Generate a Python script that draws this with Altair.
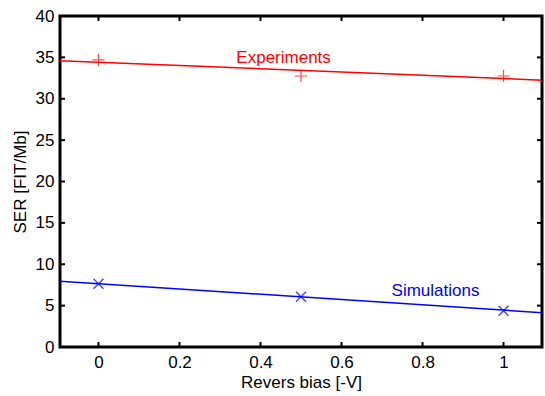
import altair as alt
import pandas as pd

# data
bias = [0.0, 0.5, 1.0]
experiments = [34.7, 32.75, 32.75]
simulations = [7.65, 6.08, 4.39]

fit_x = [-0.095, 1.095]
fit_exp = [34.6, 32.25]
fit_sim = [7.95, 4.15]

x_ticks = [0, 0.2, 0.4, 0.6, 0.8, 1.0]
y_ticks = [0, 5, 10, 15, 20, 25, 30, 35, 40]

labels = ["Experiments", "Simulations"]
label_x = [0.457, 0.832]
label_y = [34.3, 6.17]
label_col = ["#ff0000", "#0000ff"]

FONT = "Liberation Sans"
FS = 17
W, H = 482, 331

xs = alt.Scale(domain=[-0.095, 1.095], nice=False, zero=False)
ys = alt.Scale(domain=[0, 40], nice=False, zero=False)

pts = pd.DataFrame({"x": bias, "exp": experiments, "sim": simulations})
fits = pd.DataFrame({"x": fit_x, "exp": fit_exp, "sim": fit_sim})
xt = pd.DataFrame({"x": x_ticks})
yt = pd.DataFrame({"y": y_ticks})
lab = pd.DataFrame({"t": labels, "x": label_x, "y": label_y, "c": label_col})

xaxis = alt.Axis(values=x_ticks, title="Revers bias [-V]", ticks=False, grid=False,
                 domain=False, labelFont=FONT, labelFontSize=FS, labelColor="black",
                 labelPadding=7, titleFont=FONT, titleFontSize=FS, titleFontWeight="normal",
                 titleColor="black", titlePadding=4,
                 labelExpr="datum.value == 0 ? '0' : datum.value == 1 ? '1' : format(datum.value, '.1f')")
yaxis = alt.Axis(values=y_ticks, title="SER [FIT/Mb]", ticks=False, grid=False,
                 domain=False, labelFont=FONT, labelFontSize=FS, labelColor="black",
                 labelPadding=6, titleFont=FONT, titleFontSize=FS, titleFontWeight="normal",
                 titleColor="black", titlePadding=6)

base_fit = alt.Chart(fits)
red_line = base_fit.mark_line(color="#ff0000", strokeWidth=1.5, clip=True).encode(
    x=alt.X("x:Q", scale=xs, axis=xaxis), y=alt.Y("exp:Q", scale=ys, axis=yaxis))
blue_line = base_fit.mark_line(color="#0000ff", strokeWidth=1.5, clip=True).encode(
    x=alt.X("x:Q", scale=xs), y=alt.Y("sim:Q", scale=ys))

plus = "M-1,0L1,0M0,-1L0,1"
cross = "M-1,-1L1,1M-1,1L1,-1"
red_pts = alt.Chart(pts).mark_point(shape=plus, size=150, filled=False, color="#ff0000",
                                    strokeWidth=1.2).encode(
    x=alt.X("x:Q", scale=xs), y=alt.Y("exp:Q", scale=ys))
blue_pts = alt.Chart(pts).mark_point(shape=cross, size=100, filled=False, color="#0000ff",
                                     strokeWidth=1.5).encode(
    x=alt.X("x:Q", scale=xs), y=alt.Y("sim:Q", scale=ys))

texts = alt.Chart(lab).mark_text(font=FONT, fontSize=FS, baseline="alphabetic", align="center").encode(
    x=alt.X("x:Q", scale=xs), y=alt.Y("y:Q", scale=ys),
    text="t:N", color=alt.Color("c:N", scale=None))

tk = 5
xt_bot = alt.Chart(xt).mark_rule(color="black", strokeWidth=2).encode(
    x=alt.X("x:Q", scale=xs), y=alt.value(H), y2=alt.value(H - tk))
xt_top = alt.Chart(xt).mark_rule(color="black", strokeWidth=2).encode(
    x=alt.X("x:Q", scale=xs), y=alt.value(0), y2=alt.value(tk))
yt_left = alt.Chart(yt).mark_rule(color="black", strokeWidth=2).encode(
    y=alt.Y("y:Q", scale=ys), x=alt.value(0), x2=alt.value(tk))
yt_right = alt.Chart(yt).mark_rule(color="black", strokeWidth=2).encode(
    y=alt.Y("y:Q", scale=ys), x=alt.value(W), x2=alt.value(W - tk))

chart = alt.layer(red_line, blue_line, red_pts, blue_pts, texts,
                  xt_bot, xt_top, yt_left, yt_right).properties(
    width=W, height=H,
    padding={"left": 60, "top": 16, "right": 3, "bottom": 49},
    autosize=alt.AutoSizeParams(type="none"),
    background="white",
).configure_view(stroke="black", strokeWidth=3)

chart.save("out.html", embed_options={"renderer": "svg", "actions": False})
